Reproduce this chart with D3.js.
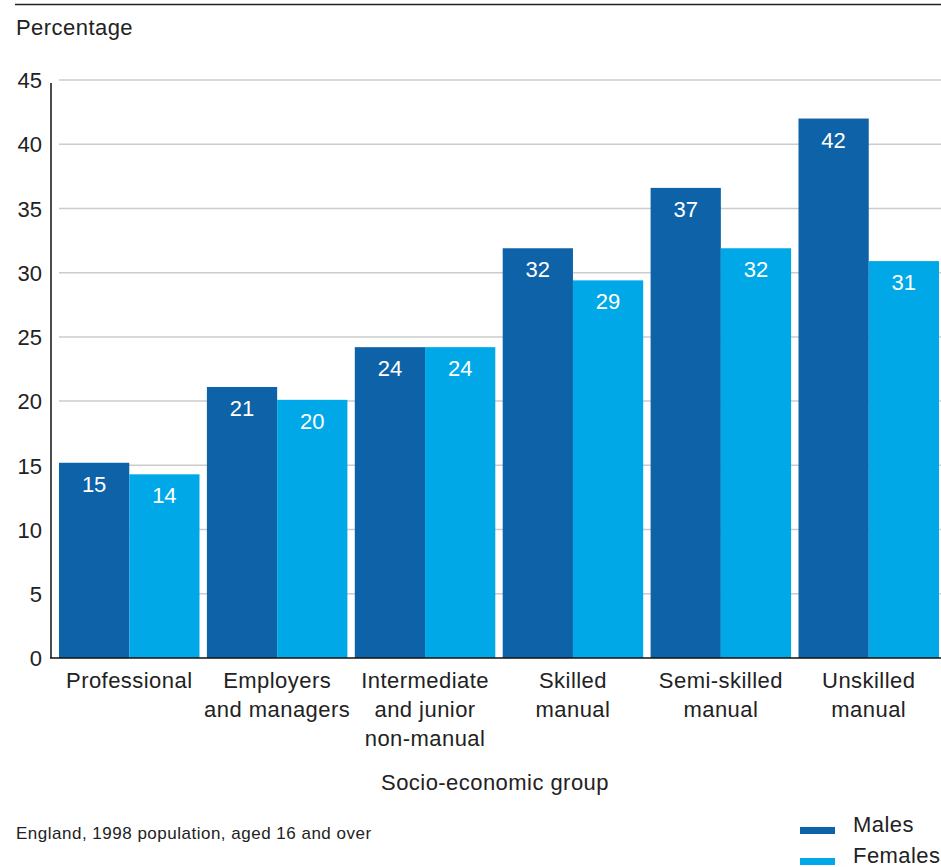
<!DOCTYPE html>
<html><head><meta charset="utf-8">
<script src="https://cdn.jsdelivr.net/npm/d3@7"></script>
<style>body{margin:0;background:#fff;} svg{display:block;font-family:"Liberation Sans",Arial,sans-serif;}</style>
</head><body>
<svg id="c" width="941" height="867"></svg>
<script>
const categories = [["Professional"],["Employers","and managers"],["Intermediate","and junior","non-manual"],["Skilled","manual"],["Semi-skilled","manual"],["Unskilled","manual"]];
const seriesNames = ["Males","Females"];
const males = [15.2, 21.1, 24.2, 31.9, 36.6, 42.0];
const females = [14.3, 20.1, 24.2, 29.4, 31.9, 30.9];
const yTicks = [0,5,10,15,20,25,30,35,40,45];
const colors = ["#0e62a8","#00a8e8"];

const svg = d3.select("#c");
const x0 = d3.scaleBand().domain(d3.range(categories.length)).range([59, 939]).paddingInner(0.05).paddingOuter(0);
const x1 = d3.scaleBand().domain(seriesNames).range([0, x0.bandwidth()]);
const y = d3.scaleLinear().domain([0,45]).range([658, 80]);
const FS = 22, LS = 0.45;

svg.append("line").attr("x1",15).attr("x2",941).attr("y1",4.5).attr("y2",4.5).attr("stroke","#222").attr("stroke-width",1.5);
svg.append("text").attr("x",16).attr("y",35).attr("font-size",FS).attr("letter-spacing",LS).attr("fill","#222").text("Percentage");

svg.append("g").selectAll("line").data(yTicks.filter(d=>d>0)).join("line")
  .attr("x1",59).attr("x2",941).attr("y1",d=>y(d)).attr("y2",d=>y(d))
  .attr("stroke","#cccccc").attr("stroke-width",1.5);

const yAxis = d3.axisLeft(y).tickValues(yTicks).tickSize(0).tickPadding(9);
const gy = svg.append("g").attr("transform","translate(51,0)").call(yAxis);
gy.select(".domain").remove();
gy.selectAll("text").attr("font-size",FS).attr("fill","#222").attr("font-family","Liberation Sans, Arial, sans-serif").attr("dy","0.35em");
svg.append("line").attr("x1",51).attr("x2",51).attr("y1",y(45)+3).attr("y2",658).attr("stroke","#111").attr("stroke-width",1.5);

const data = categories.map((c,i)=>({i, vals:[{k:"Males",v:males[i]},{k:"Females",v:females[i]}]}));
const g = svg.append("g").selectAll("g").data(data).join("g").attr("transform",d=>`translate(${x0(d.i)},0)`);
g.selectAll("rect").data(d=>d.vals).join("rect")
  .attr("x",d=>x1(d.k)).attr("width",x1.bandwidth()).attr("y",d=>y(d.v)).attr("height",d=>658-y(d.v))
  .attr("fill",(d,j)=>colors[j]);
g.selectAll("text.v").data(d=>d.vals).join("text").attr("class","v")
  .attr("x",d=>x1(d.k)+x1.bandwidth()/2).attr("y",d=>y(d.v)+29).attr("text-anchor","middle")
  .attr("font-size",FS).attr("fill","#fff").text(d=>Math.round(d.v));

svg.append("line").attr("x1",50).attr("x2",941).attr("y1",658).attr("y2",658).attr("stroke","#111").attr("stroke-width",1.5);

svg.append("g").selectAll("text").data(categories).join("text")
  .attr("text-anchor","middle").attr("font-size",FS).attr("letter-spacing",LS).attr("fill","#222")
  .attr("transform",(d,i)=>`translate(${x0(i)+x0.bandwidth()/2},688)`)
  .each(function(d){ d3.select(this).selectAll("tspan").data(d).join("tspan").attr("x",0).attr("y",(t,k)=>k*29).text(t=>t); });

svg.append("text").attr("x",495).attr("y",790).attr("text-anchor","middle").attr("font-size",FS).attr("letter-spacing",LS).attr("fill","#222").text("Socio-economic group");
svg.append("text").attr("x",16).attr("y",839).attr("font-size",17).attr("letter-spacing",0.5).attr("fill","#222").text("England, 1998 population, aged 16 and over");

const lg = svg.append("g").selectAll("g").data(seriesNames).join("g").attr("transform",(d,i)=>`translate(800,${832+i*31})`);
lg.append("rect").attr("x",0).attr("y",-5).attr("width",35).attr("height",7).attr("fill",(d,i)=>colors[i]);
lg.append("text").attr("x",53).attr("y",0).attr("font-size",FS).attr("letter-spacing",LS).attr("fill","#222").text(d=>d);
</script>
</body></html>
